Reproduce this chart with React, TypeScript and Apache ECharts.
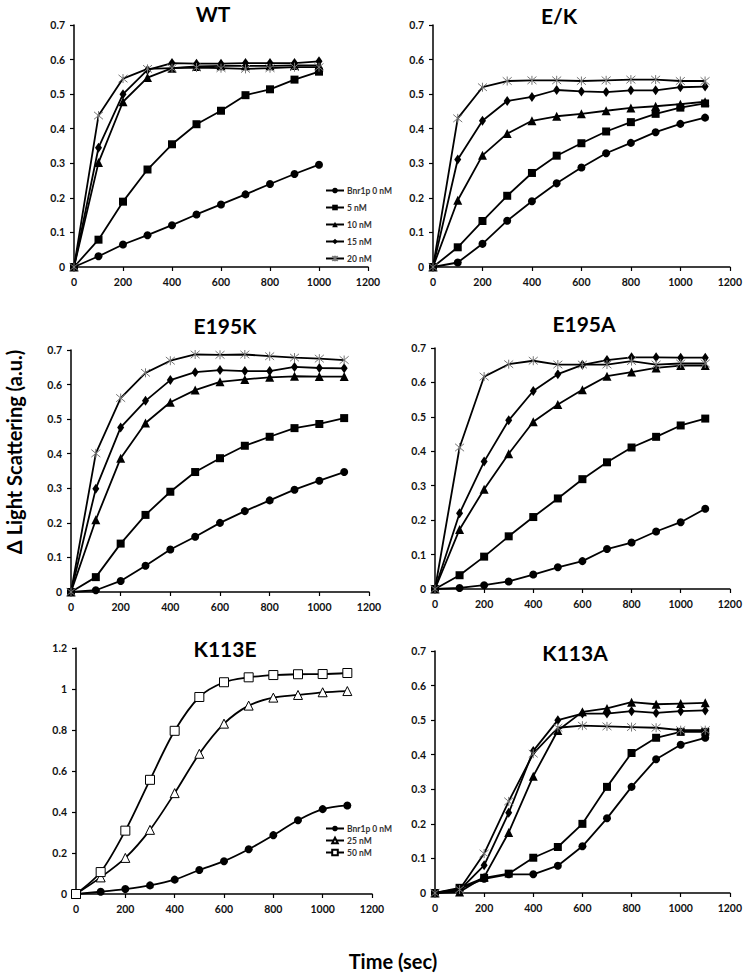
import React, { useEffect, useRef } from "react";
import * as echarts from "echarts";

// ---------- data ----------
const timeWT = [0, 100, 200, 300, 400, 500, 600, 700, 800, 900, 1000];
const time = [0, 100, 200, 300, 400, 500, 600, 700, 800, 900, 1000, 1100];

const seriesNames = ["Bnr1p 0 nM", "5 nM", "10 nM", "15 nM", "20 nM"];
const seriesNamesK113E = ["Bnr1p 0 nM", "25 nM", "50 nM"];
const panelTitles = ["WT", "E/K", "E195K", "E195A", "K113E", "K113A"];
const xTickLabels = ["0", "200", "400", "600", "800", "1000", "1200"];

const wt0 = [0, 0.031, 0.065, 0.092, 0.121, 0.152, 0.181, 0.21, 0.24, 0.269, 0.296];
const wt5 = [0, 0.079, 0.189, 0.282, 0.355, 0.413, 0.452, 0.497, 0.514, 0.542, 0.565];
const wt10 = [0, 0.302, 0.478, 0.548, 0.575, 0.58, 0.582, 0.582, 0.582, 0.583, 0.583];
const wt15 = [0, 0.345, 0.5, 0.57, 0.59, 0.588, 0.588, 0.59, 0.59, 0.59, 0.595];
const wt20 = [0, 0.438, 0.545, 0.573, 0.575, 0.577, 0.575, 0.573, 0.575, 0.578, 0.578];

const ek0 = [0, 0.013, 0.067, 0.134, 0.19, 0.242, 0.288, 0.329, 0.359, 0.39, 0.414, 0.432];
const ek5 = [0, 0.057, 0.133, 0.206, 0.272, 0.322, 0.358, 0.392, 0.419, 0.443, 0.461, 0.473];
const ek10 = [0, 0.193, 0.323, 0.386, 0.423, 0.436, 0.443, 0.452, 0.46, 0.465, 0.471, 0.478];
const ek15 = [0, 0.311, 0.423, 0.48, 0.492, 0.512, 0.508, 0.506, 0.511, 0.511, 0.52, 0.522];
const ek20 = [0, 0.43, 0.52, 0.538, 0.54, 0.54, 0.538, 0.54, 0.542, 0.542, 0.538, 0.538];

const e195k0 = [0, 0.005, 0.032, 0.076, 0.123, 0.16, 0.2, 0.234, 0.265, 0.296, 0.322, 0.347];
const e195k5 = [0, 0.043, 0.14, 0.223, 0.29, 0.347, 0.387, 0.423, 0.449, 0.474, 0.486, 0.503];
const e195k10 = [0, 0.209, 0.387, 0.489, 0.549, 0.584, 0.608, 0.615, 0.621, 0.624, 0.623, 0.623];
const e195k15 = [0, 0.299, 0.476, 0.553, 0.613, 0.636, 0.642, 0.639, 0.639, 0.651, 0.648, 0.647];
const e195k20 = [0, 0.401, 0.561, 0.634, 0.669, 0.687, 0.686, 0.687, 0.682, 0.678, 0.675, 0.671];

const e195a0 = [0, 0.003, 0.011, 0.022, 0.042, 0.063, 0.081, 0.116, 0.135, 0.167, 0.194, 0.233];
const e195a5 = [0, 0.04, 0.094, 0.153, 0.209, 0.263, 0.319, 0.368, 0.411, 0.442, 0.475, 0.495];
const e195a10 = [0, 0.173, 0.29, 0.393, 0.486, 0.536, 0.579, 0.618, 0.63, 0.642, 0.649, 0.649];
const e195a15 = [0, 0.22, 0.37, 0.49, 0.575, 0.624, 0.651, 0.665, 0.673, 0.673, 0.672, 0.672];
const e195a20 = [0, 0.411, 0.617, 0.653, 0.663, 0.652, 0.652, 0.652, 0.662, 0.652, 0.655, 0.655];

const k113e0 = [0, 0.011, 0.024, 0.042, 0.07, 0.117, 0.16, 0.218, 0.287, 0.36, 0.414, 0.432];
const k113e25 = [0, 0.081, 0.176, 0.313, 0.492, 0.684, 0.831, 0.919, 0.958, 0.971, 0.984, 0.99];
const k113e50 = [0, 0.107, 0.309, 0.557, 0.796, 0.961, 1.033, 1.057, 1.068, 1.072, 1.073, 1.078];

const k113a0 = [0, 0.012, 0.041, 0.054, 0.054, 0.079, 0.135, 0.216, 0.307, 0.387, 0.429, 0.449];
const k113a5 = [0, 0.015, 0.044, 0.056, 0.102, 0.133, 0.2, 0.307, 0.405, 0.449, 0.466, 0.466];
const k113a10 = [0, 0.003, 0.046, 0.175, 0.338, 0.47, 0.524, 0.534, 0.552, 0.546, 0.548, 0.55];
const k113a15 = [0, 0.008, 0.08, 0.232, 0.411, 0.5, 0.519, 0.519, 0.526, 0.521, 0.526, 0.528];
const k113a20 = [0, 0.01, 0.114, 0.265, 0.403, 0.478, 0.484, 0.482, 0.48, 0.478, 0.471, 0.471];

// ---------- layout ----------
const FONT = "Lato, 'Open Sans', sans-serif";
const grids = [
  { left: 74, top: 25, width: 294, height: 242 },
  { left: 433, top: 25, width: 297, height: 242 },
  { left: 71, top: 350, width: 298, height: 242 },
  { left: 435, top: 348, width: 295, height: 241 },
  { left: 76, top: 648, width: 296, height: 246 },
  { left: 435, top: 651, width: 295, height: 242 },
];
const titlePos = [
  [213, 13],
  [559, 15],
  [225, 325],
  [584, 323],
  [225, 648],
  [575, 652],
];

const ASTERISK = "path://M0,0 L10,10 M10,0 L0,10 M5,-1 L5,11";

const markerStyles: any[] = [
  { symbol: "circle", symbolSize: 8, itemStyle: { color: "#000" } },
  { symbol: "rect", symbolSize: 8, itemStyle: { color: "#000" } },
  { symbol: "triangle", symbolSize: 9, itemStyle: { color: "#000" } },
  { symbol: "diamond", symbolSize: [7, 10], itemStyle: { color: "#000" } },
  {
    symbol: ASTERISK,
    symbolSize: 9,
    itemStyle: { color: "transparent", borderColor: "#777", borderWidth: 1 },
  },
];
const markerK113E: any[] = [
  { symbol: "circle", symbolSize: 8, itemStyle: { color: "#000" } },
  { symbol: "triangle", symbolSize: 9, itemStyle: { color: "#fff", borderColor: "#000", borderWidth: 1 } },
  { symbol: "rect", symbolSize: 9, itemStyle: { color: "#fff", borderColor: "#000", borderWidth: 1 } },
];

const zip = (xs: number[], ys: number[]) => xs.map((x, i) => [x, ys[i]]);

function App() {
  const ref = useRef<HTMLDivElement>(null);
  useEffect(() => {
    if (!ref.current) return;
    const chart = echarts.init(ref.current, null, { renderer: "svg" });

    const panels: { xs: number[]; ys: number[][]; markers: any[]; names: string[]; smooth: boolean }[] = [
      { xs: timeWT, ys: [wt0, wt5, wt10, wt15, wt20], markers: markerStyles, names: seriesNames, smooth: false },
      { xs: time, ys: [ek0, ek5, ek10, ek15, ek20], markers: markerStyles, names: seriesNames, smooth: false },
      { xs: time, ys: [e195k0, e195k5, e195k10, e195k15, e195k20], markers: markerStyles, names: seriesNames, smooth: false },
      { xs: time, ys: [e195a0, e195a5, e195a10, e195a15, e195a20], markers: markerStyles, names: seriesNames, smooth: false },
      { xs: time, ys: [k113e0, k113e25, k113e50], markers: markerK113E, names: seriesNamesK113E, smooth: true },
      { xs: time, ys: [k113a0, k113a5, k113a10, k113a15, k113a20], markers: markerStyles, names: seriesNames, smooth: false },
    ];

    const axisCommon = {
      axisLine: { show: true, lineStyle: { color: "#000", width: 1.5 } },
      axisTick: { show: true, inside: false, length: 4, lineStyle: { color: "#000", width: 1.2 } },
      splitLine: { show: false },
    };

    const xAxis = grids.map((_, i) => ({
      type: "value",
      gridIndex: i,
      min: 0,
      max: 1200,
      interval: 200,
      ...axisCommon,
      axisLabel: {
        fontFamily: FONT,
        fontWeight: "bold",
        fontSize: 10.5,
        color: "#111",
        margin: 9,
        formatter: (v: number) => xTickLabels[Math.round(v / 200)] ?? String(v),
      },
    }));
    const yAxis = grids.map((_, i) => ({
      type: "value",
      gridIndex: i,
      min: 0,
      max: i === 4 ? 1.2 : 0.7,
      interval: i === 4 ? 0.2 : 0.1,
      ...axisCommon,
      axisLabel: {
        fontFamily: FONT,
        fontWeight: "bold",
        fontSize: 10.5,
        color: "#111",
        margin: 9,
        formatter: (v: number) => String(Math.round(v * 10) / 10),
      },
    }));

    const series: any[] = [];
    panels.forEach((p, gi) => {
      p.ys.forEach((ys, si) => {
        const m = p.markers[si];
        series.push({
          type: "line",
          name: p.names[si],
          xAxisIndex: gi,
          yAxisIndex: gi,
          data: zip(p.xs, ys),
          smooth: p.smooth ? 0.3 : false,
          symbol: m.symbol,
          symbolSize: m.symbolSize,
          showAllSymbol: true,
          itemStyle: m.itemStyle,
          lineStyle: { color: "#000", width: 1.8 },
          emphasis: { disabled: true },
          z: 2 + si,
        });
      });
    });

    const legendCommon = {
      orient: "vertical",
      itemWidth: 18,
      itemHeight: 7,
      selectedMode: false,
      textStyle: { fontFamily: FONT, fontSize: 8.5, fontWeight: "bold", color: "#333", lineHeight: 9, padding: [0, 0, 0, -2] },
      padding: 0,
    };

    const graphic: any[] = panelTitles.map((t, i) => ({
      type: "text",
      x: titlePos[i][0],
      y: titlePos[i][1],
      style: {
        text: t,
        font: `bold 21px ${FONT}`,
        fill: "#000",
        textAlign: "center",
        textVerticalAlign: "middle",
      },
    }));
    graphic.push({
      type: "text",
      x: 14,
      y: 452,
      rotation: Math.PI / 2,
      style: {
        text: "\u0394 Light Scattering (a.u.)",
        font: `bold 20px ${FONT}`,
        fill: "#000",
        textAlign: "center",
        textVerticalAlign: "middle",
      },
    });
    graphic.push({
      type: "text",
      x: 393,
      y: 961,
      style: {
        text: "Time (sec)",
        font: `bold 20px ${FONT}`,
        fill: "#000",
        textAlign: "center",
        textVerticalAlign: "middle",
      },
    });

    chart.setOption({
      animation: false,
      backgroundColor: "#fff",
      grid: grids.map((g) => ({ ...g, containLabel: false })),
      xAxis,
      yAxis,
      series,
      legend: [
        { ...legendCommon, data: seriesNames, left: 325, top: 186, itemGap: 8 },
        { ...legendCommon, data: seriesNamesK113E, left: 325, top: 824, itemGap: 3 },
      ],
      graphic,
    });
    return () => chart.dispose();
  }, []);

  return (
    <div
      ref={ref}
      style={{ position: "absolute", left: 0, top: 0, width: 745, height: 975, background: "#fff" }}
    />
  );
}

export default App;
